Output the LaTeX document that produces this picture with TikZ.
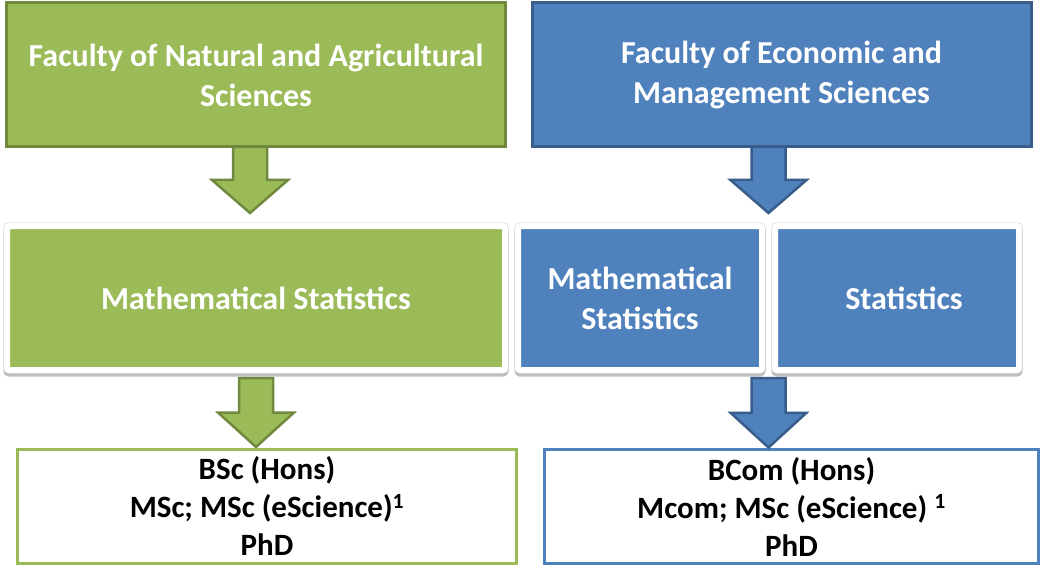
\documentclass[tikz,border=0pt]{standalone}
\usepackage{fontspec}
\setmainfont{Carlito}
\usetikzlibrary{positioning,calc,shadows}

\definecolor{nasgreen}{HTML}{9BBB59}
\definecolor{nasdark}{HTML}{71893F}
\definecolor{emsblue}{HTML}{4F81BD}
\definecolor{emsdark}{HTML}{385D8A}

% block arrow: style, centre, from, to
\newcommand{\downblock}[4]{%
  \draw[#1] let \p1=(#2), \p2=(#3), \p3=(#4), \n1={\y2+0.5*(\y3-\y2)} in
    (\x1-17pt,\y2) -- (\x1+17pt,\y2) -- (\x1+17pt,\n1) -- (\x1+38pt,\n1)
    -- (\x1,\y3) -- (\x1-38pt,\n1) -- (\x1-17pt,\n1) -- cycle;}

\begin{document}
\begin{tikzpicture}[x=1pt, y=-1pt,
  fac/.style={draw, line width=3pt, outer sep=0, minimum width=499, minimum height=144,
    text=white, align=center, font=\bfseries\fontsize{32}{40}\selectfont},
  card/.style={rectangle, rounded corners=2pt,
    drop shadow={shadow xshift=0pt, shadow yshift=-3pt, fill=black!25, draw=black!25, line width=7pt, opacity=1},
    preaction={draw=black!20, line width=7pt},
    draw=white, line width=6pt, outer sep=0, minimum height=144,
    text=white, align=center, font=\bfseries\fontsize{32}{40}\selectfont},
  deg/.style={draw, line width=3pt, outer sep=0, fill=white, minimum height=114,
    align=center, font=\bfseries\fontsize{31}{38}\selectfont},
  garrow/.style={draw=nasdark, fill=nasgreen, line width=2.5pt},
  barrow/.style={draw=emsdark, fill=emsblue, line width=2.5pt}]
  \useasboundingbox (0,0) rectangle (1042,567);

  % faculties
  \node[fac, fill=nasgreen, draw=nasdark] (fnas) at (256,75) {Faculty of Natural and Agricultural\\Sciences};
  \node[fac, fill=emsblue, draw=emsdark] (fems) at (781.5,75) {Faculty of Economic and\\Management Sciences};

  % departments
  \node[card, fill=nasgreen, minimum width=498] (gms) at (256,298) {Mathematical Statistics};
  \node[card, fill=emsblue, minimum width=244] (bms) at (640,298) {Mathematical\\Statistics};
  \node[card, fill=emsblue, minimum width=244, right=13pt of bms] (bst) {\hspace*{14pt}Statistics};

  % degrees
  \node[deg, draw=nasgreen, minimum width=499] (gdeg) at (267,506) {BSc (Hons)\\MSc; MSc (eScience)\textsuperscript{1}\\PhD};
  \node[deg, draw=emsblue, minimum width=494] (bdeg) at (791.5,506.5) {BCom (Hons)\\Mcom; MSc (eScience) \textsuperscript{1}\\PhD};

  \coordinate (btop) at ($(bms.north east)!0.5!(bst.north west)$);
  \coordinate (bbot) at ($(bms.south east)!0.5!(bst.south west)$);

  \downblock{garrow}{$(gms.north)+(-6,0)$}{fnas.south}{$(gms.north)+(0,-13)$}
  \downblock{barrow}{btop}{fems.south}{$(btop)+(0,-13)$}
  \downblock{garrow}{gms.south}{$(gms.south)+(0,8)$}{$(gdeg.north)+(0,-2)$}
  \downblock{barrow}{bbot}{$(bbot)+(0,8)$}{$(bdeg.north)+(0,-2)$}
\end{tikzpicture}
\end{document}
